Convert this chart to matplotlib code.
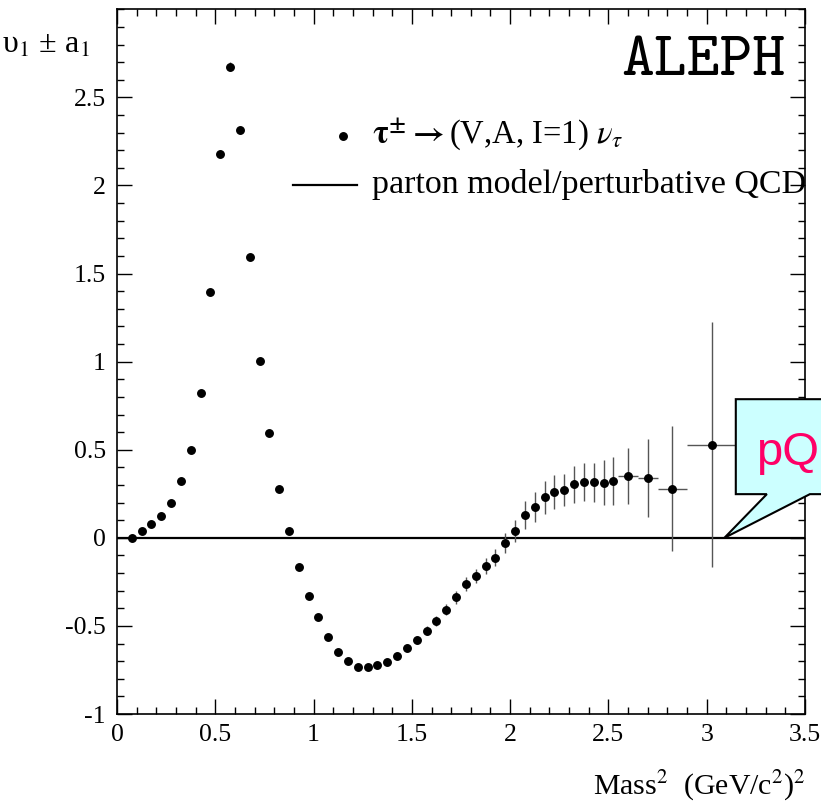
import matplotlib
matplotlib.use("Agg")
import matplotlib.pyplot as plt
from matplotlib.patches import Polygon

plt.rcParams['font.family'] = ['Liberation Serif', 'DejaVu Serif']
plt.rcParams['mathtext.fontset'] = 'stix'
plt.rcParams['axes.unicode_minus'] = False

# spectral function v1 +/- a1 vs mass^2
mass2 = [0.075, 0.125, 0.175, 0.225, 0.275, 0.325, 0.375, 0.425, 0.475, 0.525,
         0.575, 0.625, 0.675, 0.725, 0.775, 0.825, 0.875, 0.925, 0.975,
         1.025, 1.075, 1.125, 1.175, 1.225, 1.275, 1.325, 1.375, 1.425, 1.475,
         1.525, 1.575, 1.625, 1.675, 1.725, 1.775, 1.825, 1.875, 1.925, 1.975,
         2.025, 2.075, 2.125, 2.175, 2.225, 2.275, 2.325, 2.375, 2.425, 2.475,
         2.525, 2.6, 2.7, 2.825, 3.025]
sf = [0.00, 0.038, 0.076, 0.125, 0.20, 0.32, 0.496, 0.82, 1.396, 2.18,
      2.673, 2.314, 1.595, 1.003, 0.593, 0.276, 0.04, -0.168, -0.329,
      -0.452, -0.565, -0.647, -0.698, -0.732, -0.732, -0.719, -0.702, -0.668, -0.624,
      -0.579, -0.526, -0.471, -0.407, -0.338, -0.261, -0.217, -0.159, -0.112, -0.027,
      0.039, 0.129, 0.176, 0.229, 0.261, 0.272, 0.303, 0.318, 0.316, 0.314,
      0.323, 0.352, 0.34, 0.278, 0.528]
sf_err = [0.005, 0.005, 0.006, 0.006, 0.007, 0.008, 0.01, 0.012, 0.015, 0.02,
          0.025, 0.02, 0.015, 0.012, 0.01, 0.01, 0.01, 0.01, 0.01,
          0.011, 0.012, 0.012, 0.013, 0.014, 0.015, 0.016, 0.017, 0.018, 0.02,
          0.022, 0.025, 0.028, 0.032, 0.036, 0.038, 0.04, 0.045, 0.05, 0.057,
          0.06, 0.08, 0.087, 0.095, 0.097, 0.092, 0.105, 0.108, 0.11, 0.125,
          0.135, 0.16, 0.22, 0.354, 0.695]
bin_half = [0] * 50 + [0.05, 0.05, 0.075, 0.125]

xticks = [0, 0.5, 1, 1.5, 2, 2.5, 3, 3.5]
xtick_labels = ['0', '0.5', '1', '1.5', '2', '2.5', '3', '3.5']
yticks = [-1, -0.5, 0, 0.5, 1, 1.5, 2, 2.5]
ytick_labels = ['-1', '-0.5', '0', '0.5', '1', '1.5', '2', '2.5']

fig = plt.figure(figsize=(8.21, 8.07), dpi=100)
ax = fig.add_axes([0.1425, 0.1152, 0.838, 0.8733])

ax.axhline(0, color='black', lw=1.6, zorder=2)
ax.errorbar(mass2, sf, yerr=sf_err, xerr=bin_half, fmt='o', ms=5.4,
            color='black', ecolor='#555555', elinewidth=1.0, capsize=0, zorder=3)

ax.set_xlim(0, 3.5)
ax.set_ylim(-1, 3)
ax.set_xticks(xticks)
ax.set_xticklabels(xtick_labels)
ax.set_yticks(yticks)
ax.set_yticklabels(ytick_labels)
ax.set_xticks([i / 10 for i in range(36)], minor=True)
ax.set_yticks([i / 10 - 1 for i in range(41)], minor=True)
ax.tick_params(which='both', direction='in', top=True, right=True, labelsize=18.5, width=1.0)
ax.tick_params(which='major', length=11)
ax.tick_params(which='minor', length=5)
ax.tick_params(axis='x', pad=7)
ax.tick_params(axis='y', pad=8)
for s in ax.spines.values():
    s.set_linewidth(1.2)

# legend drawn by hand
ax.plot([0.3285], [0.820], 'o', color='black', ms=5.4, transform=ax.transAxes)
ax.text(0.3706, 0.823, r'$\mathbf{\tau^{\pm}\rightarrow}$(V,A, I=1) $\nu_{\tau}$',
        transform=ax.transAxes, fontsize=23.5, va='center', ha='left')
ax.plot([0.256, 0.349], [0.7507, 0.7507], color='black', lw=1.6, transform=ax.transAxes)
ax.text(0.3706, 0.7507, 'parton model/perturbative QCD', transform=ax.transAxes,
        fontsize=24.5, va='center', ha='left')

ax.text(0.971, 0.925, 'ALEPH', transform=ax.transAxes, fontsize=45,
        family='cmtt10', ha='right', va='center')

fig.text(0.002, 0.935, 'υ$_1$ ± a$_1$', fontsize=23, ha='left', va='baseline')
fig.text(0.981, 0.015, 'Mass$^2$  (GeV/c$^2$)$^2$', fontsize=21.5, ha='right', va='baseline')

# pQCD callout
callout = Polygon([(3.148, 0.787), (3.8, 0.787), (3.8, 0.248), (3.525, 0.248),
                   (3.09, 0.0), (3.306, 0.248), (3.148, 0.248)],
                  closed=True, facecolor='#ccffff', edgecolor='black', lw=1.5,
                  clip_on=False, zorder=10)
ax.add_patch(callout)
ax.text(3.25, 0.413, 'pQ', fontsize=34, family='Liberation Sans', color='#ff0066',
        ha='left', va='baseline', clip_on=False, zorder=11)

fig.savefig('out.png', dpi=100)
